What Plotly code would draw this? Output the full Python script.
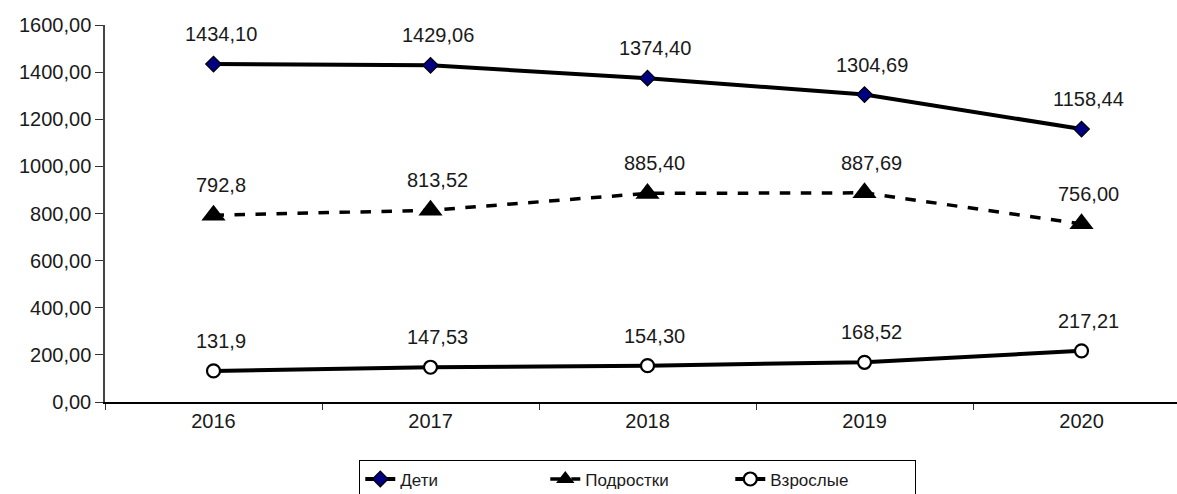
import plotly.graph_objects as go

years = ["2016", "2017", "2018", "2019", "2020"]

# Values as written in the source table (decimal comma)
deti = ["1434,10", "1429,06", "1374,40", "1304,69", "1158,44"]
podrostki = ["792,8", "813,52", "885,40", "887,69", "756,00"]
vzroslye = ["131,9", "147,53", "154,30", "168,52", "217,21"]

y_ticks = [0, 200, 400, 600, 800, 1000, 1200, 1400, 1600]


def to_num(vals):
    return [float(v.replace(",", ".")) for v in vals]


FONT = "Liberation Sans, Arial, sans-serif"
TXT = "#1a1a1a"

fig = go.Figure()

fig.add_trace(go.Scatter(
    x=years, y=to_num(deti), name="Дети", mode="lines+markers",
    line=dict(color="black", width=4),
    marker=dict(symbol="diamond", size=12, color="#000080",
                line=dict(color="black", width=1.2)),
))
fig.add_trace(go.Scatter(
    x=years, y=to_num(podrostki), name="Подростки", mode="lines+markers",
    line=dict(color="black", width=3.5, dash="dash"),
    marker=dict(symbol="triangle-up", size=21, color="black",
                line=dict(color="black", width=0)),
))
fig.add_trace(go.Scatter(
    x=years, y=to_num(vzroslye), name="Взрослые", mode="lines+markers",
    line=dict(color="black", width=4),
    marker=dict(symbol="circle", size=13, color="white",
                line=dict(color="black", width=2.2)),
))

# Data labels above each point (category axis: position by index)
for series in (deti, podrostki, vzroslye):
    for i, (txt, val) in enumerate(zip(series, to_num(series))):
        fig.add_annotation(
            x=i, y=val, xref="x", yref="y", text=txt, showarrow=False,
            xshift=7, yshift=30,
            font=dict(family=FONT, size=20, color=TXT),
        )

fig.update_layout(
    width=1177, height=494,
    margin=dict(l=105, r=0, t=25, b=92, autoexpand=False),
    paper_bgcolor="white", plot_bgcolor="white",
    separators=", ",
    font=dict(family=FONT, size=20, color=TXT),
    showlegend=True,
    legend=dict(
        orientation="h", x=0.497, xanchor="center", y=-0.155, yanchor="top",
        bordercolor="black", borderwidth=1, bgcolor="white",
        font=dict(family=FONT, size=17, color=TXT),
        entrywidth=140, entrywidthmode="pixels", tracegroupgap=0,
    ),
)

fig.update_xaxes(
    type="category", range=[-0.5, 4.44],
    showgrid=False, zeroline=False,
    showline=True, linecolor="black", linewidth=1.5,
    ticks="outside", tickson="boundaries", ticklen=6, tickcolor="#333",
    tickfont=dict(family=FONT, size=20, color=TXT),
)
fig.update_yaxes(
    range=[0, 1600], tickvals=y_ticks, tickformat=".2f",
    showgrid=False, zeroline=False,
    showline=True, linecolor="#444", linewidth=1.5,
    ticks="outside", ticklen=8, tickcolor="#333",
    tickfont=dict(family=FONT, size=20, color=TXT),
)

fig.write_html("out.html")
